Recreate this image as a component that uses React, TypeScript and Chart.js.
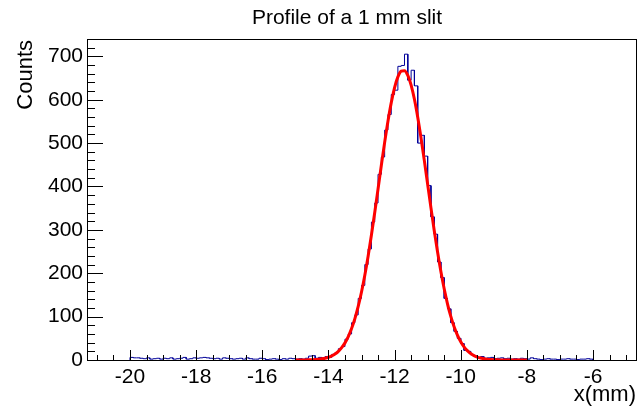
import React, { useEffect, useRef } from 'react';
import { Chart, registerables } from 'chart.js';

Chart.register(...registerables);

const chartTitle = 'Profile of a 1 mm slit';
const xAxisTitle = 'x(mm)';
const yAxisTitle = 'Counts';

// Histogram: 140 bins of 0.1 mm from -20 to -6 mm
const histLow = -20;
const binWidth = 0.1;
const counts = [
  6, 5, 5, 4, 3, 5, 2, 3, 4, 2,
  4, 3, 5, 2, 3, 4, 6, 2, 3, 5,
  4, 5, 6, 5, 4, 3, 4, 2, 5, 4,
  3, 2, 3, 4, 2, 5, 3, 2, 2, 4,
  3, 1, 2, 3, 2, 1, 3, 2, 4, 3,
  2, 3, 2, 4, 9, 10, 4, 6, 4, 8,
  6, 13, 17, 26, 31, 48, 60, 86, 104, 142,
  172, 220, 256, 318, 362, 428, 468, 530, 566, 612,
  622, 677, 679, 705, 645, 668, 632, 500, 518, 470,
  402, 330, 290, 226, 190, 142, 118, 86, 66, 50,
  38, 22, 20, 12, 10, 6, 8, 4, 5, 6,
  3, 4, 5, 3, 4, 2, 3, 2, 4, 3,
  2, 5, 3, 2, 1, 2, 3, 2, 2, 1,
  2, 2, 3, 2, 2, 1, 2, 2, 3, 2,
];

// Gaussian fit curve sampled every 0.1 mm from -15 to -8 mm
const fitStart = -15;
const fitStep = 0.1;
const fitValues = [
  0.04, 0.07, 0.13, 0.22, 0.38, 0.64, 1.05, 1.68, 2.66, 4.13,
  6.3, 9.43, 13.9, 20.0, 28.4, 39.5, 54.0, 72.4, 95.3, 123.4,
  156.7, 195.5, 239.4, 288.0, 340.0, 394.2, 448.8, 501.7, 550.6, 593.4,
  628.0, 652.6, 665.8, 667.0, 656.2, 633.8, 601.1, 559.8, 511.8, 459.6,
  405.2, 350.7, 298.1, 248.8, 203.9, 164.1, 129.6, 100.6, 76.6, 57.3,
  42.1, 30.4, 21.5, 14.9, 10.2, 6.84, 4.5, 2.91, 1.85, 1.15,
  0.7, 0.42, 0.25, 0.14, 0.08, 0.05, 0.03, 0.02, 0.01, 0.01, 0.0,
];

const xTickValues = [-20, -18, -16, -14, -12, -10, -8, -6];
const yTickValues = [0, 100, 200, 300, 400, 500, 600, 700];
const xMin = -21.3;
const xMax = -4.67;
const yMin = 0;
const yMax = 740;

const FONT = '"Liberation Sans", Arial, Helvetica, sans-serif';

const rootFrame = {
  id: 'rootFrame',
  afterDraw(chart: any) {
    const { ctx, chartArea: a, scales } = chart;
    const xs = scales.x;
    const ys = scales.y;
    ctx.save();
    ctx.strokeStyle = '#000';
    ctx.lineWidth = 1;
    ctx.beginPath();
    for (let v = Math.ceil(xs.min / 0.5) * 0.5; v <= xs.max + 1e-9; v += 0.5) {
      const px = Math.round(xs.getPixelForValue(v)) + 0.5;
      const major = Math.abs(v / 2 - Math.round(v / 2)) < 1e-6;
      ctx.moveTo(px, a.bottom);
      ctx.lineTo(px, a.bottom - (major ? 10 : 5));
    }
    for (let v = 0; v <= ys.max + 1e-9; v += 20) {
      const py = Math.round(ys.getPixelForValue(v)) + 0.5;
      const major = v % 100 === 0;
      ctx.moveTo(a.left, py);
      ctx.lineTo(a.left + (major ? 16 : 8), py);
    }
    ctx.stroke();
    ctx.strokeRect(
      Math.round(a.left) + 0.5,
      Math.round(a.top) + 0.5,
      Math.round(a.right - a.left) - 1,
      Math.round(a.bottom - a.top)
    );

    ctx.fillStyle = '#000';
    ctx.font = `21px ${FONT}`;
    ctx.textAlign = 'center';
    ctx.textBaseline = 'alphabetic';
    ctx.fillText(chartTitle, 347, 24);

    ctx.font = `22px ${FONT}`;
    ctx.textAlign = 'right';
    ctx.fillText(xAxisTitle, 636, 401);

    ctx.translate(32, 40);
    ctx.rotate(-Math.PI / 2);
    ctx.textAlign = 'right';
    ctx.fillText(yAxisTitle, 0, 0);
    ctx.restore();
  },
};

export default function App() {
  const ref = useRef<HTMLCanvasElement | null>(null);

  useEffect(() => {
    if (!ref.current) return;
    const histPoints: { x: number; y: number }[] = [];
    histPoints.push({ x: histLow, y: 0 });
    counts.forEach((c, i) => {
      histPoints.push({ x: histLow + i * binWidth, y: c });
      histPoints.push({ x: histLow + (i + 1) * binWidth, y: c });
    });
    histPoints.push({ x: histLow + counts.length * binWidth, y: 0 });

    const fitPoints = fitValues.map((v, i) => ({ x: fitStart + i * fitStep, y: v }));

    const chart = new Chart(ref.current, {
      type: 'line',
      data: {
        datasets: [
          {
            label: 'fit',
            data: fitPoints,
            borderColor: '#ff0000',
            borderWidth: 3,
            pointRadius: 0,
            cubicInterpolationMode: 'monotone',
            fill: false,
            order: 0,
          },
          {
            label: 'hist',
            data: histPoints,
            borderColor: '#000099',
            borderWidth: 1,
            pointRadius: 0,
            tension: 0,
            fill: false,
            order: 1,
          },
        ],
      },
      options: {
        animation: false,
        responsive: false,
        devicePixelRatio: 1,
        layout: { padding: { top: 39, right: 3, left: 0, bottom: 0 } },
        plugins: {
          legend: { display: false },
          tooltip: { enabled: false },
          title: { display: false },
        },
        scales: {
          x: {
            type: 'linear',
            min: xMin,
            max: xMax,
            grid: { display: false, drawTicks: false },
            border: { display: false },
            afterBuildTicks: (s: any) => {
              s.ticks = xTickValues.map((v) => ({ value: v }));
            },
            afterFit: (s: any) => {
              s.height = 56;
            },
            ticks: {
              padding: 5,
              color: '#000',
              font: { family: FONT, size: 21 },
              maxRotation: 0,
              autoSkip: false,
              callback: (v: any) => String(v),
            },
          },
          y: {
            type: 'linear',
            min: yMin,
            max: yMax,
            grid: { display: false, drawTicks: false },
            border: { display: false },
            afterBuildTicks: (s: any) => {
              s.ticks = yTickValues.map((v) => ({ value: v }));
            },
            afterFit: (s: any) => {
              s.width = 87;
            },
            ticks: {
              padding: 4,
              color: '#000',
              font: { family: FONT, size: 21 },
              autoSkip: false,
              callback: (v: any) => String(v),
            },
          },
        },
      },
      plugins: [rootFrame],
    } as any);
    return () => chart.destroy();
  }, []);

  return (
    <div style={{ position: 'fixed', left: 0, top: 0, width: 640, height: 416, background: '#fff' }}>
      <canvas ref={ref} width={640} height={416} style={{ width: 640, height: 416, display: 'block' }} />
    </div>
  );
}
